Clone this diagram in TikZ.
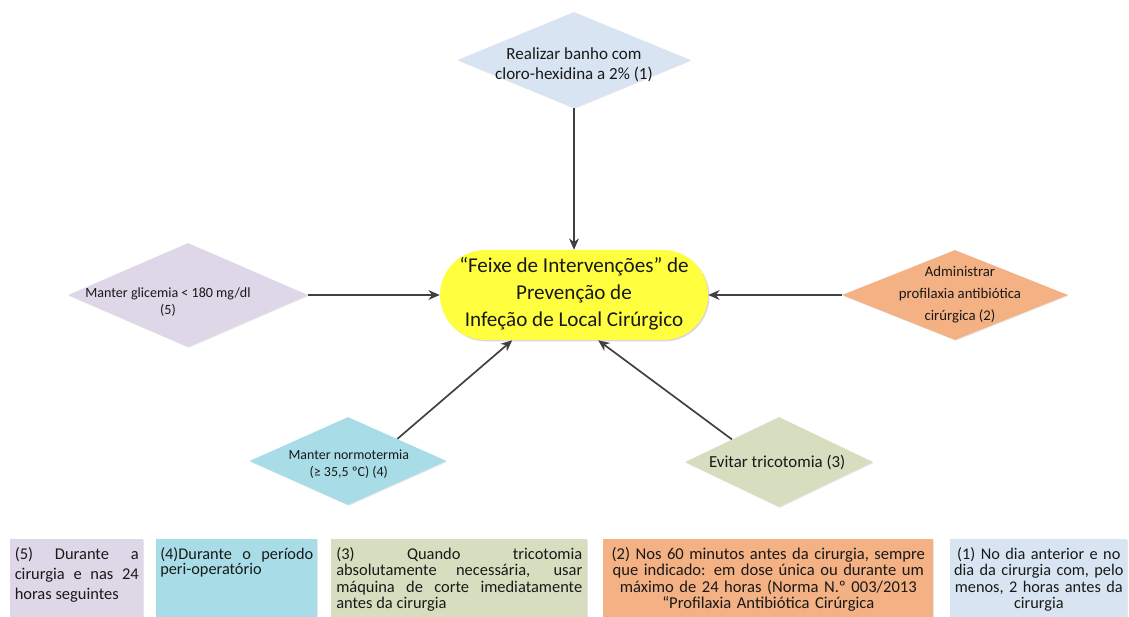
\documentclass[tikz,border=0pt]{standalone}
\usepackage{fontspec}
\setmainfont{Carlito}
\usepackage{xcolor}
\usepackage{tikz}
\usetikzlibrary{arrows.meta,positioning,shapes.geometric,shadows,calc}

\definecolor{azulClaro}{RGB}{216,228,241}
\definecolor{amarelo}{RGB}{255,255,64}
\definecolor{lilas}{RGB}{221,215,231}
\definecolor{laranja}{RGB}{244,177,131}
\definecolor{ciano}{RGB}{168,221,232}
\definecolor{verdeClaro}{RGB}{215,222,192}
\definecolor{cinzaSeta}{RGB}{64,64,64}

\begin{document}
\begin{tikzpicture}[
    >={Stealth[length=8pt, width=7pt]},
    dia/.style={diamond, draw=none, inner sep=0pt,
                drop shadow={shadow xshift=0.6pt, shadow yshift=-0.6pt,
                             opacity=0.2}},
    dtexto/.style={align=center, inner sep=0pt, text=black!90,
                   font=\fontsize{12.1}{14.2}\selectfont},
    centro/.style={rectangle, rounded corners=1.125cm, fill=amarelo,
                   minimum width=6.7cm, minimum height=2.25cm,
                   drop shadow={shadow xshift=1pt, shadow yshift=-1pt,
                                opacity=0.3}},
    caixa/.style={rectangle, anchor=north west, minimum height=1.95cm,
                  drop shadow={shadow xshift=0.6pt, shadow yshift=-0.6pt,
                               opacity=0.2}},
    ntexto/.style={anchor=north, inner sep=0pt, yshift=-0.2cm,
                   text=black!90, font=\fontsize{11.7}{11.7}\selectfont},
    seta/.style={->, line width=1.2pt, draw=cinzaSeta, color=cinzaSeta},
  ]
  \useasboundingbox (0,0) rectangle (28.225,-15.425);

  % Centre
  \node[centro] (feixe) at (14.35,-7.375) {};
  \node[dtexto, font=\fontsize{15}{19.2}\selectfont] at (14.35,-7.35)
    {“Feixe de Intervenções” de\\Prevenção de\\Infeção de Local Cirúrgico};

  % Diamonds round the centre
  \node[dia, fill=azulClaro, minimum width=5.825cm, minimum height=2.4cm]
    (banho) at (14.35,-1.5) {};
  \node[dtexto] at (14.35,-1.625) {Realizar banho com\\cloro-hexidina a 2\% (1)};

  \node[dia, fill=lilas, minimum width=6.0cm, minimum height=2.6cm]
    (glicemia) at (4.7,-7.375) {};
  \node[dtexto, font=\fontsize{10}{12.2}\selectfont] at (4.2,-7.55)
    {Manter glicemia < 180 mg/dl\\(5)};

  \node[dia, fill=laranja, minimum width=5.65cm, minimum height=2.25cm]
    (profilaxia) at (23.875,-7.375) {};
  \node[dtexto, font=\fontsize{10.5}{15.6}\selectfont] at (24.0,-7.375)
    {Administrar\\profilaxia antibiótica\\cirúrgica (2)};

  \node[dia, fill=ciano, minimum width=4.925cm, minimum height=2.2cm]
    (normotermia) at (8.7,-11.525) {};
  \node[dtexto, font=\fontsize{9.9}{12.2}\selectfont] at (8.72,-11.6)
    {Manter normotermia\\(≥ 35,5 ºC) (4)};

  \node[dia, fill=verdeClaro, minimum width=4.7cm, minimum height=2.25cm]
    (tricotomia) at (19.475,-11.55) {};
  \node[dtexto, font=\fontsize{12}{14.2}\selectfont] at (19.43,-11.575)
    {Evitar tricotomia (3)};

  % Arrows
  \draw[seta] (banho.south) -- (feixe.north);
  \draw[seta] (glicemia.east) -- (feixe.west);
  \draw[seta] (profilaxia.west) -- (feixe.east);
  \draw[seta] (normotermia.north east) --
    ($(feixe.south)!0.46!(feixe.south west)$);
  \draw[seta] (tricotomia.north west) --
    ($(feixe.south)!0.18!(feixe.south east)$);

  % Notes at the bottom
  \node[caixa, fill=lilas, minimum width=3.325cm] (nota5) at (0.25,-13.475) {};
  \node[ntexto, text width=3.1cm, align=justify,
        font=\fontsize{11.7}{14.2}\selectfont] at (nota5.north)
    {(5) Durante a\linebreak cirurgia e nas 24\linebreak horas seguintes};

  \node[caixa, fill=ciano, minimum width=4.025cm] (nota4) at (3.9,-13.475) {};
  \node[ntexto, text width=3.825cm, align=justify,
        font=\fontsize{11.6}{10.7}\selectfont] at (nota4.north)
    {(4)Durante o período\linebreak peri-operatório};

  \node[caixa, fill=verdeClaro, minimum width=6.4cm] (nota3) at (8.275,-13.475) {};
  \node[ntexto, text width=6.15cm, align=justify] at (nota3.north)
    {(3) Quando tricotomia\linebreak absolutamente necessária, usar\linebreak
     máquina de corte imediatamente\linebreak antes da cirurgia};

  \node[caixa, fill=laranja, minimum width=8.25cm] (nota2) at (15.075,-13.475) {};
  \node[ntexto, text width=9.5cm, align=center,
        font=\fontsize{11.8}{11.7}\selectfont] at (nota2.north)
    {(2) Nos 60 minutos antes da cirurgia, sempre\\
     que indicado: em dose única ou durante um\\
     máximo de 24 horas (Norma N.º 003/2013\\
     “Profilaxia Antibiótica Cirúrgica};

  \node[caixa, fill=azulClaro, minimum width=4.425cm] (nota1) at (23.75,-13.475) {};
  \node[ntexto, text width=5.5cm, align=center,
        font=\fontsize{11.6}{11.7}\selectfont] at (nota1.north)
    {(1) No dia anterior e no\\dia da cirurgia com, pelo\\
     menos, 2 horas antes da\\cirurgia};

\end{tikzpicture}
\end{document}
